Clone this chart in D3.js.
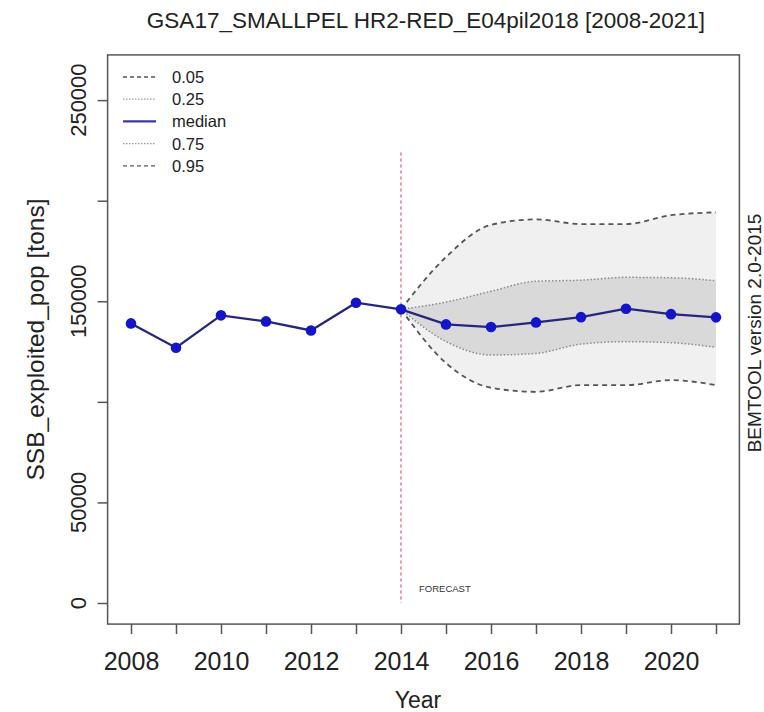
<!DOCTYPE html>
<html>
<head>
<meta charset="utf-8">
<script src="https://cdn.jsdelivr.net/npm/d3@7"></script>
<style>
  html, body { margin: 0; padding: 0; background: #fff; }
  svg { display: block; font-family: "Liberation Sans", Arial, sans-serif; }
</style>
</head>
<body>
<div id="chart"></div>
<script>
// ── Data ─────────────────────────────────────
const YEARS      = [2008,2009,2010,2011,2012,2013,2014,2015,2016,2017,2018,2019,2020,2021];
const MEDIAN     = [139000,126900,143000,140000,135500,149300,146000,138500,137200,139500,142100,146300,143600,142000];
const FC_YEARS   = [2014,2015,2016,2017,2018,2019,2020,2021];
const Q05        = [146000,119300,107000,105000,108300,108300,110800,108300];
const Q25        = [146000,130000,123300,124100,128700,129900,129400,127100];
const Q75        = [146000,149600,155000,160000,160500,161900,161700,160200];
const Q95        = [146000,172000,188000,190700,188400,188400,192800,194200];
const Y_TICKS    = [0,50000,100000,150000,200000,250000];
const Y_LABELED  = [0,50000,150000,250000];
const X_LABELED  = [2008,2010,2012,2014,2016,2018,2020];
const LEGEND     = ["0.05","0.25","median","0.75","0.95"];
const FORECAST_YEAR = 2014;
const FORECAST_TOP  = 224000;
const Y_MAX      = 262000;

(function () {
  const W = 764, H = 712;

  const svg = d3.select("#chart").append("svg").attr("width", W).attr("height", H);

  const x = d3.scaleLinear().domain([2008, 2021]).range([131, 716]);
  const y = d3.scaleLinear().domain([0, Y_MAX]).range([603, 76]);

  // R-style 4% extension of the plot region
  const xPad = (2021 - 2008) * 0.04, yPad = Y_MAX * 0.04;
  const left = x(2008 - xPad), right = x(2021 + xPad);
  const top = y(Y_MAX + yPad), bottom = y(-yPad);

  const fc = FC_YEARS.map((yr, i) => ({ yr, q05: Q05[i], q25: Q25[i], q75: Q75[i], q95: Q95[i] }));
  const med = YEARS.map((yr, i) => ({ yr, v: MEDIAN[i] }));
  const curve = d3.curveMonotoneX;

  // ── Bands ──────────────────────────────────
  svg.append("path").datum(fc)
    .attr("d", d3.area().curve(curve).x(d => x(d.yr)).y0(d => y(d.q05)).y1(d => y(d.q95)))
    .attr("fill", "#f0f0f0");
  svg.append("path").datum(fc)
    .attr("d", d3.area().curve(curve).x(d => x(d.yr)).y0(d => y(d.q25)).y1(d => y(d.q75)))
    .attr("fill", "#d9d9d9");

  // ── Quantile lines ─────────────────────────
  const qLine = key => d3.line().curve(curve).x(d => x(d.yr)).y(d => y(d[key]));
  [["q05","dash"],["q95","dash"],["q25","dot"],["q75","dot"]].forEach(([key, kind]) => {
    svg.append("path").datum(fc).attr("d", qLine(key))
      .attr("fill", "none")
      .attr("stroke", kind === "dash" ? "#555" : "#8a8a8a")
      .attr("stroke-width", kind === "dash" ? 1.8 : 1.5)
      .attr("stroke-dasharray", kind === "dash" ? "5,4" : "1.5,2");
  });

  // ── Forecast marker ────────────────────────
  svg.append("line")
    .attr("x1", x(FORECAST_YEAR)).attr("x2", x(FORECAST_YEAR))
    .attr("y1", y(FORECAST_TOP)).attr("y2", y(0))
    .attr("stroke", "#e0607a").attr("stroke-width", 1.3).attr("stroke-dasharray", "3,3");
  svg.append("text")
    .attr("x", x(FORECAST_YEAR) + 18).attr("y", 592)
    .attr("font-size", "9.5px").attr("fill", "#333").text("FORECAST");

  // ── Median ────────────────────────────────
  svg.append("path").datum(med)
    .attr("d", d3.line().x(d => x(d.yr)).y(d => y(d.v)))
    .attr("fill", "none").attr("stroke", "#26267e").attr("stroke-width", 2.3);
  svg.selectAll(".dot").data(med).join("circle")
    .attr("class", "dot")
    .attr("cx", d => x(d.yr)).attr("cy", d => y(d.v))
    .attr("r", 5.3).attr("fill", "#1414c8");

  // ── Plot box ───────────────────────────────
  svg.append("rect")
    .attr("x", left).attr("y", top).attr("width", right - left).attr("height", bottom - top)
    .attr("fill", "none").attr("stroke", "#555").attr("stroke-width", 1.5);

  // ── X axis ─────────────────────────────────
  const xAxis = svg.append("g").attr("transform", `translate(0,${bottom})`)
    .call(d3.axisBottom(x).tickValues(YEARS).tickSize(10)
      .tickFormat(d => X_LABELED.includes(d) ? String(d) : ""));
  xAxis.select(".domain").remove();
  xAxis.selectAll(".tick line").attr("stroke", "#555").attr("stroke-width", 1.5);
  xAxis.selectAll("text").attr("font-size", "25px").attr("fill", "#222")
    .attr("font-family", "'Liberation Sans', Arial, sans-serif")
    .attr("y", 46).attr("dy", null);

  svg.append("text").attr("x", 418).attr("y", 708)
    .attr("text-anchor", "middle").attr("font-size", "23px").attr("fill", "#222").text("Year");

  // ── Y axis ─────────────────────────────────
  const yAxis = svg.append("g").attr("transform", `translate(${left},0)`)
    .call(d3.axisLeft(y).tickValues(Y_TICKS).tickSize(10).tickFormat(""));
  yAxis.select(".domain").remove();
  yAxis.selectAll(".tick line").attr("stroke", "#555").attr("stroke-width", 1.5);

  svg.selectAll(".ylab").data(Y_LABELED).join("text")
    .attr("class", "ylab")
    .attr("transform", d => `translate(78,${y(d)}) rotate(-90)`)
    .attr("text-anchor", "middle").attr("dy", "0.36em")
    .attr("font-size", "22px").attr("fill", "#222")
    .text(d => String(d));

  svg.append("text")
    .attr("transform", `translate(35,${(top + bottom) / 2}) rotate(-90)`)
    .attr("text-anchor", "middle").attr("dy", "0.36em")
    .attr("font-size", "24.5px").attr("fill", "#222")
    .text("SSB_exploited_pop [tons]");

  // ── Title & side note ──────────────────────
  svg.append("text").attr("x", 426).attr("y", 28)
    .attr("text-anchor", "middle").attr("font-size", "22.5px").attr("fill", "#222")
    .text("GSA17_SMALLPEL HR2-RED_E04pil2018 [2008-2021]");

  svg.append("text")
    .attr("transform", `translate(754,333) rotate(-90)`)
    .attr("text-anchor", "middle").attr("dy", "0.36em")
    .attr("font-size", "19px").attr("fill", "#222")
    .text("BEMTOOL version 2.0-2015");

  // ── Legend ─────────────────────────────────
  const legend = svg.append("g").attr("transform", "translate(123,77)");
  LEGEND.forEach((lab, i) => {
    const ly = i * 22.2;
    const isMed = lab === "median";
    const isDash = lab === "0.05" || lab === "0.95";
    legend.append("line").attr("x1", 0).attr("x2", 33).attr("y1", ly).attr("y2", ly)
      .attr("stroke", isMed ? "#3a3aa0" : (isDash ? "#555" : "#999"))
      .attr("stroke-width", isMed ? 2.2 : 1.3)
      .attr("stroke-dasharray", isMed ? null : (isDash ? "4,3" : "1.5,1.5"));
    legend.append("text").attr("x", 49).attr("y", ly).attr("dy", "0.36em")
      .attr("font-size", "16.5px").attr("fill", "#222").text(lab);
  });
})();
</script>
</body>
</html>
